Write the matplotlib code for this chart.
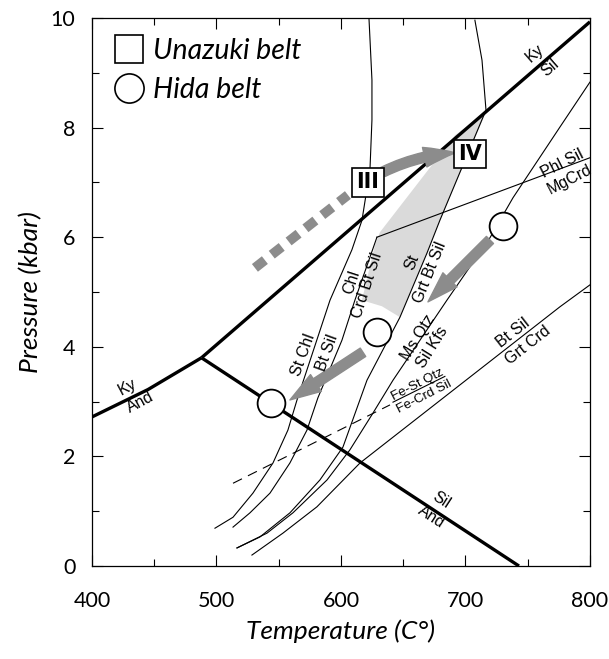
import numpy as np
import matplotlib.pyplot as plt
from matplotlib.lines import Line2D
from matplotlib.patches import Polygon

# aluminosilicate reactions (T in C, P in kbar)
ky_and_T = [400, 445, 488]
ky_and_P = [2.72, 3.22, 3.80]
ky_sil_T = [488, 800]
ky_sil_P = [3.80, 9.93]
sil_and_T = [488, 743]
sil_and_P = [3.80, 0.0]

# thin reaction curves
stchl_T = [622.5, 624.9, 624.9, 623.3, 616.9, 608.8, 591.2, 564.7, 557.4, 545.4, 529.3, 513.3, 498.8]
stchl_P = [10.0, 8.87, 8.14, 7.23, 6.31, 5.77, 4.85, 3.03, 2.48, 1.88, 1.33, 0.89, 0.69]
chl_T = [628.9, 611.2, 600.8, 581.5, 572.7, 559.0, 543.0, 526.9, 513.3]
chl_P = [6.00, 4.85, 4.12, 3.07, 2.48, 1.88, 1.33, 0.97, 0.71]
st_T = [707.6, 713.3, 716.5, 679.5, 669.1, 647.4, 620.9, 601.6, 583.1, 559.0, 534.9, 516.5]
st_P = [9.96, 9.23, 8.32, 6.31, 5.71, 4.54, 3.39, 2.17, 1.57, 0.97, 0.53, 0.33]
ms_T = [800, 775.9, 738.2, 719.7, 685.1, 641.8, 625.7, 607.2, 588.8, 561.4, 540.6, 516.5]
ms_P = [8.83, 8.01, 6.72, 5.99, 4.85, 3.39, 2.79, 2.12, 1.57, 0.97, 0.60, 0.33]
phl_T = [628.9, 800]
phl_P = [6.00, 7.45]
btsil_T = [800, 775.9, 647.4, 615.3, 580.7, 553.4, 528.5]
btsil_P = [5.13, 4.73, 2.45, 1.88, 1.08, 0.60, 0.20]
fest_T = [513.3, 639.4]
fest_P = [1.51, 2.94]
fest_bar_T = [641.8, 683.5]
fest_bar_P = [2.99, 3.46]

# shaded field
shade_T = [716.5, 691.6, 631.3, 627.3, 616.9, 632.9, 647.4, 669.1, 679.5]
shade_P = [8.28, 7.86, 6.09, 5.86, 4.85, 4.74, 4.54, 5.71, 6.31]

# Unazuki belt P-T path
una_dash_T = [530.9, 605.6]
una_dash_P = [5.44, 6.77]
una_arrow = [(633.7, 7.19), (692.0, 7.54)]
una_boxes = [("III", 621.7, 7.00), ("IV", 703.6, 7.52)]

# Hida belt points and paths
hida_T = [730, 629, 543.8]
hida_P = [6.20, 4.27, 2.97]
hida_arrows = [((719.7, 5.95), (669.9, 4.82)), ((617.7, 3.90), (559.0, 3.03))]

# reaction labels: (text, T, P, rotation, size)
labels = [
    ("Ky", 755.8, 9.36, 41, 11.5), ("Sil", 767.9, 9.09, 41, 11.5),
    ("Ky", 428.9, 3.27, 28, 11.5), ("And", 438.6, 2.99, 28, 11.5),
    ("Sil", 680.3, 1.20, -33, 11.5), ("And", 672.3, 0.89, -33, 11.5),
    ("Phl Sil", 778.0, 7.35, 27, 11.5), ("MgCrd", 784.0, 7.05, 27, 11.5),
    ("St Chl", 569.5, 3.85, 70, 11.5), ("Bt Sil", 588.8, 3.89, 70, 11.5),
    ("Chl", 608.8, 5.18, 72, 11.5), ("Crd Bt Sil", 620.9, 5.13, 72, 11.5),
    ("St", 657.0, 5.55, 68, 11.5), ("Grt Bt Sil", 671.5, 5.36, 68, 11.5),
    ("Ms Qtz", 661.8, 4.16, 58, 11.5), ("Sil Kfs", 673.1, 4.00, 58, 11.5),
    ("Fe-St Qtz", 661.8, 3.30, 27, 9.5), ("Fe-Crd Sil", 666.7, 3.08, 27, 9.5),
    ("Bt Sil", 738.2, 4.25, 38, 11.5), ("Grt Crd", 750.2, 4.03, 38, 11.5),
]

fig = plt.figure(figsize=(6.09, 6.59), dpi=100)
ax = fig.add_axes([0.151, 0.1411, 0.8177, 0.8316])

gray = "#8c8c8c"
ax.add_patch(Polygon(np.column_stack([shade_T, shade_P]), closed=True,
                     facecolor="#dadada", edgecolor="none", zorder=1))

for T, P in [(ky_and_T, ky_and_P), (ky_sil_T, ky_sil_P), (sil_and_T, sil_and_P)]:
    ax.plot(T, P, color="k", lw=2.4, solid_capstyle="butt", zorder=3)

for T, P in [(stchl_T, stchl_P), (chl_T, chl_P), (st_T, st_P), (ms_T, ms_P),
             (phl_T, phl_P), (btsil_T, btsil_P), (fest_bar_T, fest_bar_P)]:
    ax.plot(T, P, color="k", lw=0.8, zorder=2)
ax.plot(fest_T, fest_P, color="k", lw=0.8, dashes=(9, 6), zorder=2)

# Unazuki path
ax.plot(una_dash_T, una_dash_P, color=gray, lw=7, dashes=(1.3, 0.9),
        solid_capstyle="butt", dash_capstyle="butt", zorder=4)
ax.annotate("", xy=una_arrow[1], xytext=una_arrow[0],
            arrowprops=dict(arrowstyle="simple,head_length=1.4,head_width=0.9,tail_width=0.45",
                            color=gray, connectionstyle="arc3,rad=-0.1",
                            shrinkA=0, shrinkB=0, mutation_scale=16), zorder=4)
for txt, T, P in una_boxes:
    ax.text(T, P, txt, ha="center", va="center", fontsize=15, fontweight="bold",
            family="Liberation Sans Narrow", zorder=6,
            bbox=dict(boxstyle="square,pad=0.2", fc="white", ec="k", lw=1.2))

# Hida path
for start, end in hida_arrows:
    ax.annotate("", xy=end, xytext=start,
                arrowprops=dict(arrowstyle="simple,head_length=1.4,head_width=0.9,tail_width=0.45",
                                color=gray, shrinkA=0, shrinkB=0, mutation_scale=16), zorder=4)
ax.plot(hida_T, hida_P, "o", ms=20, mfc="white", mec="k", mew=1.3, zorder=5)

for txt, T, P, rot, sz in labels:
    ax.text(T, P, txt, ha="center", va="center", rotation=rot, rotation_mode="anchor",
            fontsize=sz, family="Liberation Sans", zorder=6)

ax.set_xlim(400, 800)
ax.set_ylim(0, 10)
ax.set_xticks([400, 500, 600, 700, 800])
ax.set_xticks(np.arange(450, 800, 100), minor=True)
ax.set_yticks([0, 2, 4, 6, 8, 10])
ax.set_yticks([1, 3, 5, 7, 9], minor=True)
ax.tick_params(which="both", direction="in", top=True, right=True, width=0.8)
ax.tick_params(which="major", length=8)
ax.tick_params(which="minor", length=5)
ax.tick_params(axis="x", pad=18)
ax.tick_params(axis="y", pad=12)
for lab in ax.get_xticklabels() + ax.get_yticklabels():
    lab.set_family("Lato")
    lab.set_color("k")
    lab.set_fontsize(15.5)
for s in ax.spines.values():
    s.set_linewidth(0.9)

ax.set_xlabel("Temperature (C°)", family="Lato", style="italic",
              fontsize=19, labelpad=6, color="k")
ax.set_ylabel("Pressure (kbar)", family="Lato", style="italic",
              fontsize=19, labelpad=6, color="k")

handles = [Line2D([], [], marker="s", ls="none", mfc="white", mec="k", ms=20, mew=1.2),
           Line2D([], [], marker="o", ls="none", mfc="white", mec="k", ms=21, mew=1.2)]
ax.legend(handles, ["Unazuki belt", "Hida belt"], loc="upper left", frameon=False,
          prop=dict(family="Lato", style="italic", size=20.5),
          handletextpad=0.25, labelspacing=0.45, borderaxespad=0.3, handlelength=1.2)

fig.savefig("out.png", dpi=100)
